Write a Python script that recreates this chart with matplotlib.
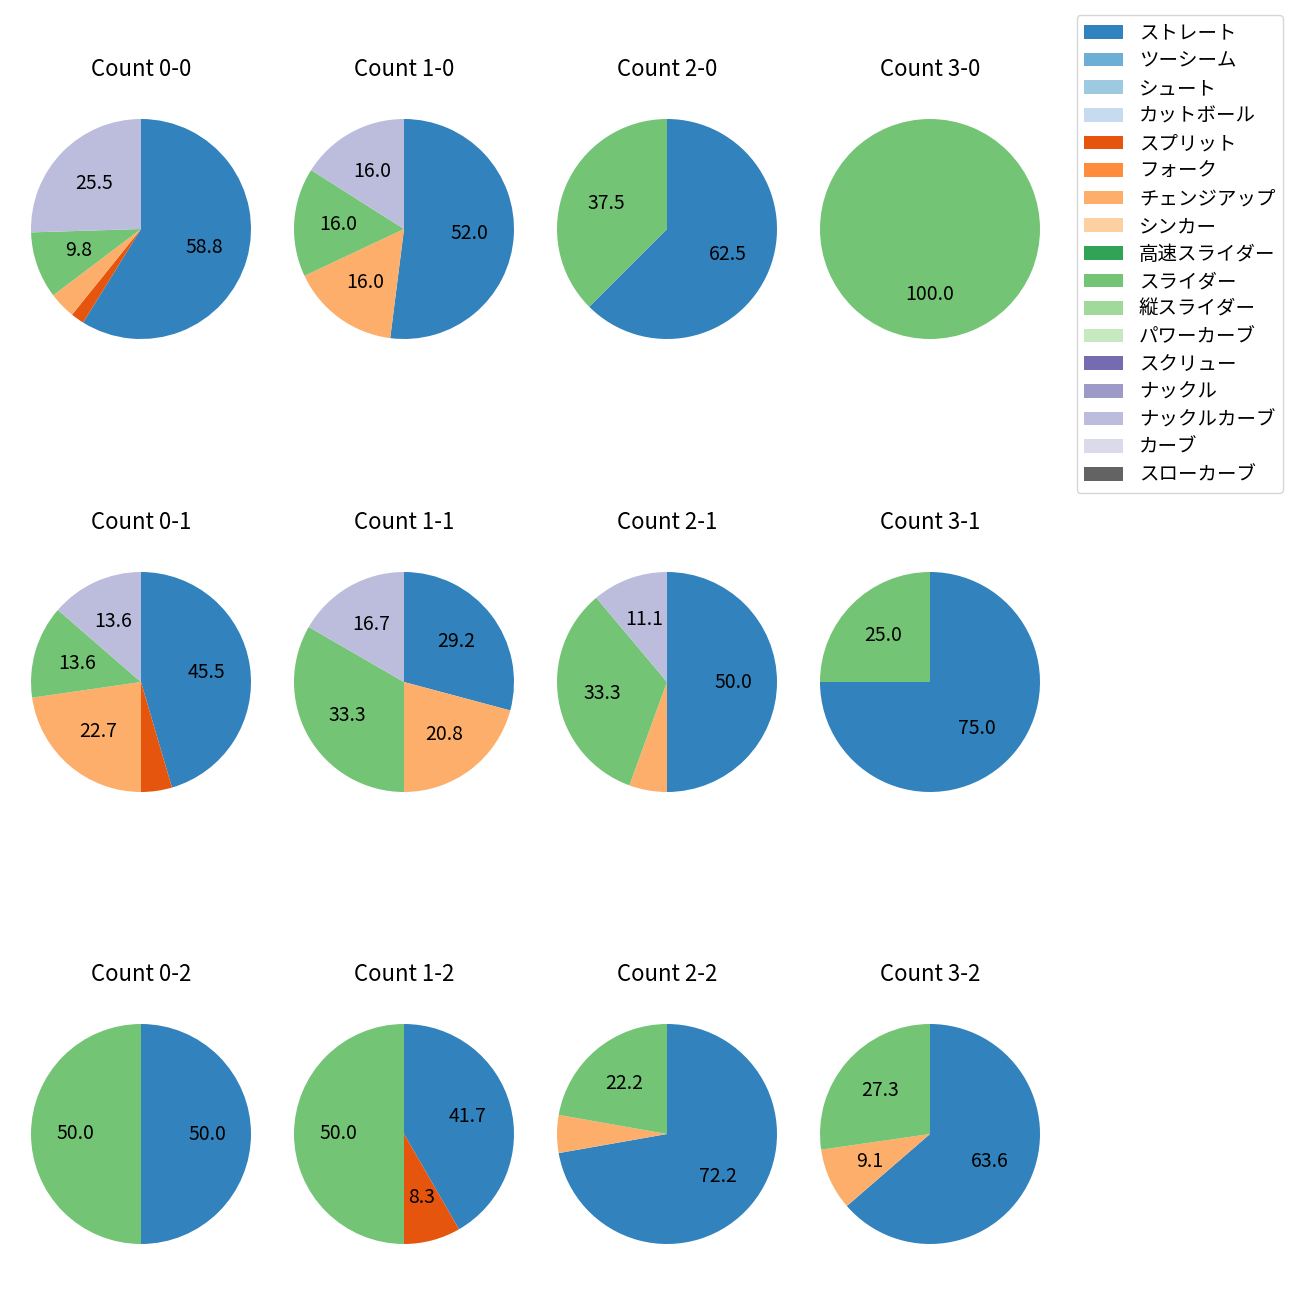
import matplotlib
matplotlib.use('Agg')
import matplotlib.pyplot as plt
from matplotlib.patches import Patch

plt.rcParams['font.family'] = ['Noto Sans CJK JP', 'DejaVu Sans']

# pitch types (legend order)
pitch_types = ['ストレート', 'ツーシーム', 'シュート', 'カットボール', 'スプリット', 'フォーク',
               'チェンジアップ', 'シンカー', '高速スライダー', 'スライダー', '縦スライダー',
               'パワーカーブ', 'スクリュー', 'ナックル', 'ナックルカーブ', 'カーブ', 'スローカーブ']

# pitch counts per ball-strike count: {pitch type: number}
count_00 = {'ストレート': 30, 'スプリット': 1, 'チェンジアップ': 2, 'スライダー': 5, 'ナックルカーブ': 13}
count_10 = {'ストレート': 13, 'チェンジアップ': 4, 'スライダー': 4, 'ナックルカーブ': 4}
count_20 = {'ストレート': 5, 'スライダー': 3}
count_30 = {'スライダー': 1}
count_01 = {'ストレート': 10, 'スプリット': 1, 'チェンジアップ': 5, 'スライダー': 3, 'ナックルカーブ': 3}
count_11 = {'ストレート': 7, 'チェンジアップ': 5, 'スライダー': 8, 'ナックルカーブ': 4}
count_21 = {'ストレート': 9, 'チェンジアップ': 1, 'スライダー': 6, 'ナックルカーブ': 2}
count_31 = {'ストレート': 3, 'スライダー': 1}
count_02 = {'ストレート': 1, 'スライダー': 1}
count_12 = {'ストレート': 5, 'スプリット': 1, 'スライダー': 6}
count_22 = {'ストレート': 13, 'チェンジアップ': 1, 'スライダー': 4}
count_32 = {'ストレート': 7, 'チェンジアップ': 1, 'スライダー': 3}

grid = [[('0-0', count_00), ('1-0', count_10), ('2-0', count_20), ('3-0', count_30)],
        [('0-1', count_01), ('1-1', count_11), ('2-1', count_21), ('3-1', count_31)],
        [('0-2', count_02), ('1-2', count_12), ('2-2', count_22), ('3-2', count_32)]]

cmap = plt.get_cmap('tab20c')
colors = {p: cmap(i) for i, p in enumerate(pitch_types)}

fig = plt.figure(figsize=(13, 13), dpi=100)

# axes placement (pixels), pies drawn with default +-1.25 limits
size = 275
col_x = [141, 404, 667, 930]
row_y = [229, 682, 1134]


def pct_label(p):
    return f'{p:.1f}' if p >= 7 else ''


for r, row in enumerate(grid):
    for c, (name, data) in enumerate(row):
        ax = fig.add_axes([(col_x[c] - size / 2) / 1300, 1 - (row_y[r] + size / 2) / 1300,
                           size / 1300, size / 1300])
        labels = [p for p in pitch_types if p in data]
        vals = [data[p] for p in labels]
        ax.pie(vals, colors=[colors[p] for p in labels], startangle=90, counterclock=False,
               autopct=pct_label, textprops={'fontsize': 14})
        ax.set_title(f'Count {name}', fontsize=16, pad=11)

handles = [Patch(facecolor=colors[p], label=p) for p in pitch_types]
fig.legend(handles=handles, loc='upper right', bbox_to_anchor=(0.987, 0.9885),
           borderaxespad=0, fontsize=14, labelspacing=0.34)

fig.savefig('out.png')
